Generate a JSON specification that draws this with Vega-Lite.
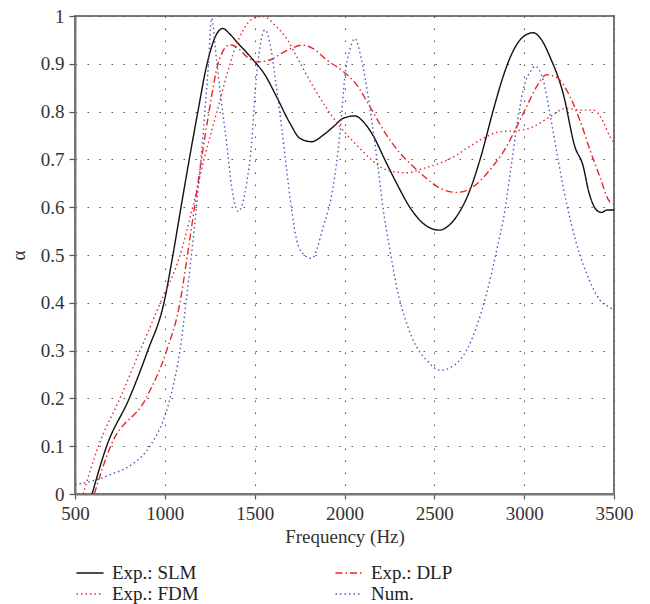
{
  "$schema": "https://vega.github.io/schema/vega-lite/v6.json",
  "width": 539,
  "height": 478,
  "autosize": "none",
  "padding": {"left": 75, "top": 16, "right": 36, "bottom": 110},
  "background": "white",
  "config": {
    "font": "Liberation Serif",
    "view": {"stroke": "#777777", "strokeWidth": 2},
    "axis": {
      "labelFont": "Liberation Serif", "labelFontSize": 19, "labelColor": "#333333",
      "titleFont": "Liberation Serif", "titleFontSize": 19, "titleFontWeight": "normal", "titleColor": "#333333",
      "domainColor": "#777777", "domainWidth": 2, "tickColor": "#555555", "tickWidth": 1.2,
      "gridColor": "#555555", "gridDash": [1.5, 10.5], "gridWidth": 1.1, "labelFlush": false
    }
  },
  "datasets": {
    "curves": [
      {"s": "Exp.: SLM", "f": 595, "a": 0},
      {"s": "Exp.: SLM", "f": 676, "a": 0.1},
      {"s": "Exp.: SLM", "f": 802, "a": 0.2},
      {"s": "Exp.: SLM", "f": 905, "a": 0.3},
      {"s": "Exp.: SLM", "f": 995, "a": 0.4},
      {"s": "Exp.: SLM", "f": 1045, "a": 0.5},
      {"s": "Exp.: SLM", "f": 1090, "a": 0.6},
      {"s": "Exp.: SLM", "f": 1136, "a": 0.7},
      {"s": "Exp.: SLM", "f": 1184, "a": 0.8},
      {"s": "Exp.: SLM", "f": 1235, "a": 0.9},
      {"s": "Exp.: SLM", "f": 1288, "a": 0.962},
      {"s": "Exp.: SLM", "f": 1322, "a": 0.974},
      {"s": "Exp.: SLM", "f": 1362, "a": 0.962},
      {"s": "Exp.: SLM", "f": 1400, "a": 0.946},
      {"s": "Exp.: SLM", "f": 1492, "a": 0.908},
      {"s": "Exp.: SLM", "f": 1557, "a": 0.877},
      {"s": "Exp.: SLM", "f": 1622, "a": 0.831},
      {"s": "Exp.: SLM", "f": 1696, "a": 0.776},
      {"s": "Exp.: SLM", "f": 1752, "a": 0.744},
      {"s": "Exp.: SLM", "f": 1817, "a": 0.737},
      {"s": "Exp.: SLM", "f": 1882, "a": 0.751},
      {"s": "Exp.: SLM", "f": 1937, "a": 0.768},
      {"s": "Exp.: SLM", "f": 1993, "a": 0.786},
      {"s": "Exp.: SLM", "f": 2058, "a": 0.791},
      {"s": "Exp.: SLM", "f": 2104, "a": 0.779},
      {"s": "Exp.: SLM", "f": 2151, "a": 0.755},
      {"s": "Exp.: SLM", "f": 2234, "a": 0.692},
      {"s": "Exp.: SLM", "f": 2290, "a": 0.65},
      {"s": "Exp.: SLM", "f": 2374, "a": 0.594},
      {"s": "Exp.: SLM", "f": 2438, "a": 0.566},
      {"s": "Exp.: SLM", "f": 2527, "a": 0.552},
      {"s": "Exp.: SLM", "f": 2587, "a": 0.564},
      {"s": "Exp.: SLM", "f": 2640, "a": 0.59},
      {"s": "Exp.: SLM", "f": 2690, "a": 0.628},
      {"s": "Exp.: SLM", "f": 2754, "a": 0.699},
      {"s": "Exp.: SLM", "f": 2828, "a": 0.803},
      {"s": "Exp.: SLM", "f": 2880, "a": 0.87},
      {"s": "Exp.: SLM", "f": 2930, "a": 0.92},
      {"s": "Exp.: SLM", "f": 2990, "a": 0.955},
      {"s": "Exp.: SLM", "f": 3050, "a": 0.965},
      {"s": "Exp.: SLM", "f": 3097, "a": 0.95},
      {"s": "Exp.: SLM", "f": 3143, "a": 0.915},
      {"s": "Exp.: SLM", "f": 3217, "a": 0.838},
      {"s": "Exp.: SLM", "f": 3282, "a": 0.727},
      {"s": "Exp.: SLM", "f": 3329, "a": 0.685},
      {"s": "Exp.: SLM", "f": 3357, "a": 0.636},
      {"s": "Exp.: SLM", "f": 3403, "a": 0.594},
      {"s": "Exp.: SLM", "f": 3431, "a": 0.589},
      {"s": "Exp.: SLM", "f": 3460, "a": 0.594},
      {"s": "Exp.: SLM", "f": 3500, "a": 0.594},

      {"s": "Exp.: DLP", "f": 607, "a": 0},
      {"s": "Exp.: DLP", "f": 698, "a": 0.1},
      {"s": "Exp.: DLP", "f": 895, "a": 0.2},
      {"s": "Exp.: DLP", "f": 1010, "a": 0.3},
      {"s": "Exp.: DLP", "f": 1084, "a": 0.4},
      {"s": "Exp.: DLP", "f": 1126, "a": 0.5},
      {"s": "Exp.: DLP", "f": 1165, "a": 0.6},
      {"s": "Exp.: DLP", "f": 1204, "a": 0.7},
      {"s": "Exp.: DLP", "f": 1246, "a": 0.8},
      {"s": "Exp.: DLP", "f": 1296, "a": 0.9},
      {"s": "Exp.: DLP", "f": 1329, "a": 0.93},
      {"s": "Exp.: DLP", "f": 1362, "a": 0.94},
      {"s": "Exp.: DLP", "f": 1400, "a": 0.935},
      {"s": "Exp.: DLP", "f": 1455, "a": 0.915},
      {"s": "Exp.: DLP", "f": 1511, "a": 0.904},
      {"s": "Exp.: DLP", "f": 1585, "a": 0.908},
      {"s": "Exp.: DLP", "f": 1650, "a": 0.922},
      {"s": "Exp.: DLP", "f": 1715, "a": 0.934},
      {"s": "Exp.: DLP", "f": 1765, "a": 0.939},
      {"s": "Exp.: DLP", "f": 1820, "a": 0.933},
      {"s": "Exp.: DLP", "f": 1901, "a": 0.908},
      {"s": "Exp.: DLP", "f": 1993, "a": 0.884},
      {"s": "Exp.: DLP", "f": 2068, "a": 0.856},
      {"s": "Exp.: DLP", "f": 2142, "a": 0.81},
      {"s": "Exp.: DLP", "f": 2234, "a": 0.751},
      {"s": "Exp.: DLP", "f": 2309, "a": 0.713},
      {"s": "Exp.: DLP", "f": 2383, "a": 0.685},
      {"s": "Exp.: DLP", "f": 2457, "a": 0.66},
      {"s": "Exp.: DLP", "f": 2531, "a": 0.64},
      {"s": "Exp.: DLP", "f": 2624, "a": 0.631},
      {"s": "Exp.: DLP", "f": 2717, "a": 0.643},
      {"s": "Exp.: DLP", "f": 2809, "a": 0.678},
      {"s": "Exp.: DLP", "f": 2902, "a": 0.727},
      {"s": "Exp.: DLP", "f": 2958, "a": 0.768},
      {"s": "Exp.: DLP", "f": 3013, "a": 0.81},
      {"s": "Exp.: DLP", "f": 3069, "a": 0.852},
      {"s": "Exp.: DLP", "f": 3124, "a": 0.877},
      {"s": "Exp.: DLP", "f": 3180, "a": 0.872},
      {"s": "Exp.: DLP", "f": 3236, "a": 0.845},
      {"s": "Exp.: DLP", "f": 3310, "a": 0.782},
      {"s": "Exp.: DLP", "f": 3366, "a": 0.72},
      {"s": "Exp.: DLP", "f": 3421, "a": 0.664},
      {"s": "Exp.: DLP", "f": 3477, "a": 0.611},
      {"s": "Exp.: DLP", "f": 3500, "a": 0.607},

      {"s": "Exp.: FDM", "f": 545, "a": 0},
      {"s": "Exp.: FDM", "f": 630, "a": 0.1},
      {"s": "Exp.: FDM", "f": 750, "a": 0.2},
      {"s": "Exp.: FDM", "f": 862, "a": 0.3},
      {"s": "Exp.: FDM", "f": 975, "a": 0.4},
      {"s": "Exp.: FDM", "f": 1085, "a": 0.5},
      {"s": "Exp.: FDM", "f": 1155, "a": 0.6},
      {"s": "Exp.: FDM", "f": 1218, "a": 0.7},
      {"s": "Exp.: FDM", "f": 1290, "a": 0.8},
      {"s": "Exp.: FDM", "f": 1353, "a": 0.887},
      {"s": "Exp.: FDM", "f": 1381, "a": 0.922},
      {"s": "Exp.: FDM", "f": 1437, "a": 0.971},
      {"s": "Exp.: FDM", "f": 1492, "a": 0.995},
      {"s": "Exp.: FDM", "f": 1548, "a": 0.999},
      {"s": "Exp.: FDM", "f": 1622, "a": 0.977},
      {"s": "Exp.: FDM", "f": 1678, "a": 0.953},
      {"s": "Exp.: FDM", "f": 1734, "a": 0.915},
      {"s": "Exp.: FDM", "f": 1826, "a": 0.852},
      {"s": "Exp.: FDM", "f": 1901, "a": 0.807},
      {"s": "Exp.: FDM", "f": 1975, "a": 0.768},
      {"s": "Exp.: FDM", "f": 2068, "a": 0.73},
      {"s": "Exp.: FDM", "f": 2142, "a": 0.702},
      {"s": "Exp.: FDM", "f": 2234, "a": 0.678},
      {"s": "Exp.: FDM", "f": 2346, "a": 0.672},
      {"s": "Exp.: FDM", "f": 2438, "a": 0.681},
      {"s": "Exp.: FDM", "f": 2531, "a": 0.692},
      {"s": "Exp.: FDM", "f": 2624, "a": 0.709},
      {"s": "Exp.: FDM", "f": 2680, "a": 0.723},
      {"s": "Exp.: FDM", "f": 2772, "a": 0.744},
      {"s": "Exp.: FDM", "f": 2865, "a": 0.758},
      {"s": "Exp.: FDM", "f": 2958, "a": 0.76},
      {"s": "Exp.: FDM", "f": 3050, "a": 0.768},
      {"s": "Exp.: FDM", "f": 3143, "a": 0.789},
      {"s": "Exp.: FDM", "f": 3236, "a": 0.807},
      {"s": "Exp.: FDM", "f": 3310, "a": 0.803},
      {"s": "Exp.: FDM", "f": 3384, "a": 0.803},
      {"s": "Exp.: FDM", "f": 3440, "a": 0.779},
      {"s": "Exp.: FDM", "f": 3477, "a": 0.748},
      {"s": "Exp.: FDM", "f": 3500, "a": 0.735},

      {"s": "Num.", "f": 500, "a": 0.02},
      {"s": "Num.", "f": 560, "a": 0.024},
      {"s": "Num.", "f": 640, "a": 0.032},
      {"s": "Num.", "f": 713, "a": 0.043},
      {"s": "Num.", "f": 750, "a": 0.048},
      {"s": "Num.", "f": 825, "a": 0.064},
      {"s": "Num.", "f": 880, "a": 0.082},
      {"s": "Num.", "f": 917, "a": 0.1},
      {"s": "Num.", "f": 1029, "a": 0.2},
      {"s": "Num.", "f": 1084, "a": 0.3},
      {"s": "Num.", "f": 1118, "a": 0.4},
      {"s": "Num.", "f": 1148, "a": 0.5},
      {"s": "Num.", "f": 1176, "a": 0.6},
      {"s": "Num.", "f": 1201, "a": 0.7},
      {"s": "Num.", "f": 1223, "a": 0.8},
      {"s": "Num.", "f": 1243, "a": 0.9},
      {"s": "Num.", "f": 1260, "a": 0.995},
      {"s": "Num.", "f": 1288, "a": 0.908},
      {"s": "Num.", "f": 1316, "a": 0.817},
      {"s": "Num.", "f": 1344, "a": 0.734},
      {"s": "Num.", "f": 1372, "a": 0.643},
      {"s": "Num.", "f": 1409, "a": 0.591},
      {"s": "Num.", "f": 1455, "a": 0.65},
      {"s": "Num.", "f": 1483, "a": 0.734},
      {"s": "Num.", "f": 1502, "a": 0.838},
      {"s": "Num.", "f": 1530, "a": 0.936},
      {"s": "Num.", "f": 1557, "a": 0.971},
      {"s": "Num.", "f": 1585, "a": 0.943},
      {"s": "Num.", "f": 1613, "a": 0.873},
      {"s": "Num.", "f": 1650, "a": 0.768},
      {"s": "Num.", "f": 1678, "a": 0.678},
      {"s": "Num.", "f": 1706, "a": 0.594},
      {"s": "Num.", "f": 1734, "a": 0.531},
      {"s": "Num.", "f": 1760, "a": 0.507},
      {"s": "Num.", "f": 1817, "a": 0.493},
      {"s": "Num.", "f": 1882, "a": 0.559},
      {"s": "Num.", "f": 1937, "a": 0.643},
      {"s": "Num.", "f": 1975, "a": 0.755},
      {"s": "Num.", "f": 2002, "a": 0.873},
      {"s": "Num.", "f": 2030, "a": 0.929},
      {"s": "Num.", "f": 2058, "a": 0.953},
      {"s": "Num.", "f": 2095, "a": 0.908},
      {"s": "Num.", "f": 2132, "a": 0.831},
      {"s": "Num.", "f": 2179, "a": 0.706},
      {"s": "Num.", "f": 2216, "a": 0.594},
      {"s": "Num.", "f": 2253, "a": 0.51},
      {"s": "Num.", "f": 2290, "a": 0.434},
      {"s": "Num.", "f": 2346, "a": 0.357},
      {"s": "Num.", "f": 2401, "a": 0.308},
      {"s": "Num.", "f": 2457, "a": 0.28},
      {"s": "Num.", "f": 2531, "a": 0.259},
      {"s": "Num.", "f": 2605, "a": 0.268},
      {"s": "Num.", "f": 2680, "a": 0.301},
      {"s": "Num.", "f": 2735, "a": 0.35},
      {"s": "Num.", "f": 2791, "a": 0.42},
      {"s": "Num.", "f": 2847, "a": 0.51},
      {"s": "Num.", "f": 2893, "a": 0.594},
      {"s": "Num.", "f": 2930, "a": 0.692},
      {"s": "Num.", "f": 2967, "a": 0.789},
      {"s": "Num.", "f": 3004, "a": 0.859},
      {"s": "Num.", "f": 3041, "a": 0.887},
      {"s": "Num.", "f": 3060, "a": 0.895},
      {"s": "Num.", "f": 3106, "a": 0.866},
      {"s": "Num.", "f": 3143, "a": 0.796},
      {"s": "Num.", "f": 3189, "a": 0.699},
      {"s": "Num.", "f": 3236, "a": 0.608},
      {"s": "Num.", "f": 3291, "a": 0.524},
      {"s": "Num.", "f": 3347, "a": 0.462},
      {"s": "Num.", "f": 3421, "a": 0.406},
      {"s": "Num.", "f": 3487, "a": 0.388},
      {"s": "Num.", "f": 3500, "a": 0.385}
    ]
  },
  "data": {"name": "curves"},
  "mark": {"type": "line", "interpolate": "monotone", "strokeWidth": 1.4, "clip": true},
  "encoding": {
    "x": {
      "field": "f", "type": "quantitative",
      "scale": {"domain": [500, 3500], "nice": false, "zero": false},
      "axis": {
        "values": [500, 1000, 1500, 2000, 2500, 3000, 3500],
        "format": "d", "title": "Frequency (Hz)",
        "tickSize": 5, "labelPadding": 5, "titlePadding": 4, "grid": true
      }
    },
    "y": {
      "field": "a", "type": "quantitative",
      "scale": {"domain": [0, 1], "nice": false},
      "axis": {
        "values": [0, 0.1, 0.2, 0.3, 0.4, 0.5, 0.6, 0.7, 0.8, 0.9, 1],
        "format": "~g", "title": "α",
        "tickSize": 6, "labelPadding": 5, "titlePadding": 12, "grid": true
      }
    },
    "color": {
      "field": "s", "type": "nominal",
      "scale": {
        "domain": ["Exp.: SLM", "Exp.: FDM", "Exp.: DLP", "Num."],
        "range": ["#111111", "#e8262c", "#e8262c", "#4a5ab8"]
      },
      "legend": {
        "orient": "none", "legendX": 4, "legendY": 546, "columns": 2, "columnPadding": 133,
        "rowPadding": 0, "padding": 0, "symbolType": "M-1.35,0H1.35", "symbolSize": 400,
        "symbolStrokeWidth": 1.5, "labelFont": "Liberation Serif", "labelFontSize": 19,
        "labelColor": "#222222", "labelOffset": 11, "title": null, "labelLimit": 300
      }
    },
    "strokeDash": {
      "field": "s", "type": "nominal",
      "scale": {
        "domain": ["Exp.: SLM", "Exp.: FDM", "Exp.: DLP", "Num."],
        "range": [[1, 0], [1.5, 3], [7, 3, 1.5, 3], [1.5, 3]]
      },
      "legend": {
        "orient": "none", "legendX": 4, "legendY": 546, "columns": 2, "columnPadding": 133,
        "rowPadding": 0, "padding": 0, "symbolType": "M-1.35,0H1.35", "symbolSize": 400,
        "symbolStrokeWidth": 1.5, "labelFont": "Liberation Serif", "labelFontSize": 19,
        "labelColor": "#222222", "labelOffset": 11, "title": null, "labelLimit": 300
      }
    }
  }
}
